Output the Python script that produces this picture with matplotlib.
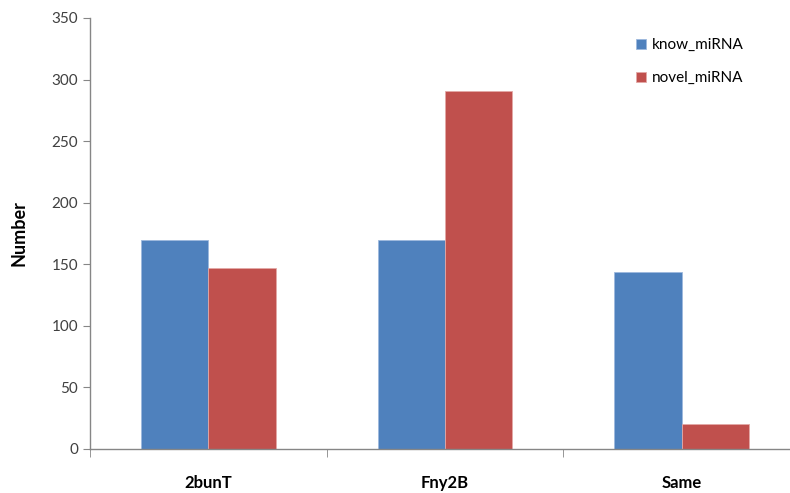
import numpy as np
import matplotlib
matplotlib.use("Agg")
import matplotlib.pyplot as plt

categories = ["2bunT", "Fny2B", "Same"]
know_miRNA = [170, 170, 144]
novel_miRNA = [147, 291, 20]

plt.rcParams['font.family'] = ['Lato', 'DejaVu Sans']

fig = plt.figure(figsize=(7.9, 4.93), dpi=100)
ax = fig.add_axes([90 / 790, 44 / 493, 710 / 790, 431 / 493])

x = np.arange(len(categories))
w = 0.285
ax.bar(x - w / 2, know_miRNA, w, color="#4F81BD", edgecolor="#9DB9DD", linewidth=0.6, label="know_miRNA")
ax.bar(x + w / 2, novel_miRNA, w, color="#C0504D", edgecolor="#E3A9A7", linewidth=0.6, label="novel_miRNA")

ax.set_xlim(-0.5, 2.5)
ax.set_ylim(0, 350)
ax.set_yticks(range(0, 351, 50))

grey = "#868686"
for s in ["top", "right"]:
    ax.spines[s].set_visible(False)
for s in ["left", "bottom"]:
    ax.spines[s].set_color(grey)
    ax.spines[s].set_linewidth(1)

ax.tick_params(axis="y", colors=grey, labelcolor="#404040", labelsize=11, length=5, direction="out")
ax.set_xticks(x)
ax.set_xticklabels(categories, fontsize=12, fontweight="bold")
ax.tick_params(axis="x", length=0, pad=19)
ax.set_xticks([-0.5, 0.5, 1.5], minor=True)
ax.tick_params(axis="x", which="minor", length=6, colors=grey, direction="out")

ax.set_ylabel("Number", fontsize=13, fontweight="bold", labelpad=17)

ax.legend(loc="upper right", bbox_to_anchor=(0.94, 0.985), frameon=False, fontsize=11,
          handlelength=0.6, handleheight=0.6, handletextpad=0.4, labelspacing=1.25)

fig.savefig("out.png", dpi=100)
